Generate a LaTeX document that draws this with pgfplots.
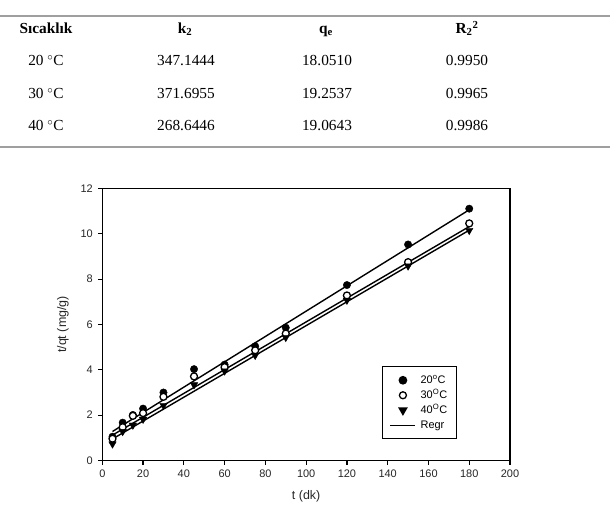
\documentclass[border=0pt]{standalone}
\usepackage{pgfplots}
\pgfplotsset{compat=1.18}
\usepackage{fontspec}
\setmainfont{Liberation Serif}
\newfontfamily\arial{Liberation Sans}

% t/qt values
\newcommand{\tabfont}{\fontsize{15.4}{18}\selectfont}

\begin{document}
\begin{tikzpicture}
\useasboundingbox (0bp,0bp) rectangle (610bp,505bp);

% table above the chart
\draw[gray!75,line width=1.5bp] (0bp,489bp) -- (610bp,489bp);
\draw[gray!75,line width=1.5bp] (0bp,358bp) -- (610bp,358bp);
\begin{scope}[every node/.style={anchor=base,inner sep=0pt,font=\tabfont}]
  \node at (46bp,471.7bp) {\textbf{Sıcaklık}};
  \node at (185bp,471.7bp) {\textbf{k\textsubscript{2}}};
  \node at (326bp,471.7bp) {\textbf{q\textsubscript{e}}};
  \node at (467bp,471.7bp) {\textbf{R\textsubscript{2}\textsuperscript{2}}};
  \node at (46bp,439bp) {20 $^{\circ}$C};
  \node at (186bp,439bp) {347.1444};
  \node at (327bp,439bp) {18.0510};
  \node at (467bp,439bp) {0.9950};
  \node at (46bp,406.3bp) {30 $^{\circ}$C};
  \node at (186bp,406.3bp) {371.6955};
  \node at (327bp,406.3bp) {19.2537};
  \node at (467bp,406.3bp) {0.9965};
  \node at (46bp,374bp) {40 $^{\circ}$C};
  \node at (186bp,374bp) {268.6446};
  \node at (327bp,374bp) {19.0643};
  \node at (467bp,374bp) {0.9986};
\end{scope}

\begin{axis}[
  at={(102.3bp,44.5bp)}, anchor=south west,
  scale only axis, width=407.7bp, height=272bp,
  xmin=0, xmax=200, ymin=0, ymax=12,
  xtick={0,20,...,200}, ytick={0,2,...,12},
  tick pos=left, tick align=outside, major tick length=4bp,
  axis line style={line width=1.4bp},
  every tick/.style={line width=1.2bp,black},
  /pgf/number format/assume math mode=true,
  ticklabel style={font=\arial\fontsize{11}{12}\selectfont,text=black!85},
  xticklabel style={yshift=-2bp},
  yticklabel style={xshift=-2bp},
  xlabel={t (dk)}, ylabel={t/qt (mg/g)},
  label style={font=\arial\fontsize{12.5}{14}\selectfont,text=black!85},
  x label style={at={(axis description cs:0.5,-0.13)},anchor=center},
  y label style={at={(axis description cs:-0.0964,0.5)},anchor=center},
  legend image code/.code={\draw[mark repeat=2,mark phase=2] plot coordinates {(0bp,0bp) (12.5bp,0bp) (25bp,0bp)};},
  legend cell align=left,
  legend style={at={(axis description cs:0.685,0.347)},anchor=north west,
    draw=black,line width=1.3bp,fill=white,
    font=\arial\fontsize{11}{12}\selectfont,
    inner xsep=7.5bp,inner ysep=6.5bp,row sep=1bp,column sep=3bp,
    nodes={inner sep=1.5bp,text height=8.5bp,text depth=2.5bp}},
]
\addplot[only marks,mark=*,mark size=3.7bp,black] coordinates {
  (5,1.05) (10,1.67) (15,2.01) (20,2.29) (30,3.00) (45,4.03) (60,4.23)
  (75,5.04) (90,5.86) (120,7.74) (150,9.53) (180,11.11)};
\addlegendentry{20\textsuperscript{o}C}
\addplot[only marks,mark=*,mark size=3.5bp,mark options={fill=white,draw=black,line width=1.3bp}] coordinates {
  (5,0.96) (10,1.47) (15,1.97) (20,2.09) (30,2.81) (45,3.71) (60,4.12)
  (75,4.86) (90,5.60) (120,7.28) (150,8.75) (180,10.46)};
\addlegendentry{30\textsuperscript{O}C}
\addplot[only marks,mark=triangle*,mark size=4.3bp,mark options={rotate=180,fill=black,draw=black},black] coordinates {
  (5,0.73) (10,1.28) (15,1.56) (20,1.82) (30,2.43) (45,3.34) (60,3.95)
  (75,4.64) (90,5.43) (120,7.07) (150,8.58) (180,10.15)};
\addlegendentry{40\textsuperscript{O}C}
\addplot[black,line width=1.4bp] coordinates {(5,1.28) (180,11.06)};
\addlegendentry{Regr}
\addplot[black,line width=1.4bp,forget plot] coordinates {(5,1.12) (180,10.32)};
\addplot[black,line width=1.4bp,forget plot] coordinates {(5,0.95) (180,10.16)};
\end{axis}
\end{tikzpicture}
\end{document}
